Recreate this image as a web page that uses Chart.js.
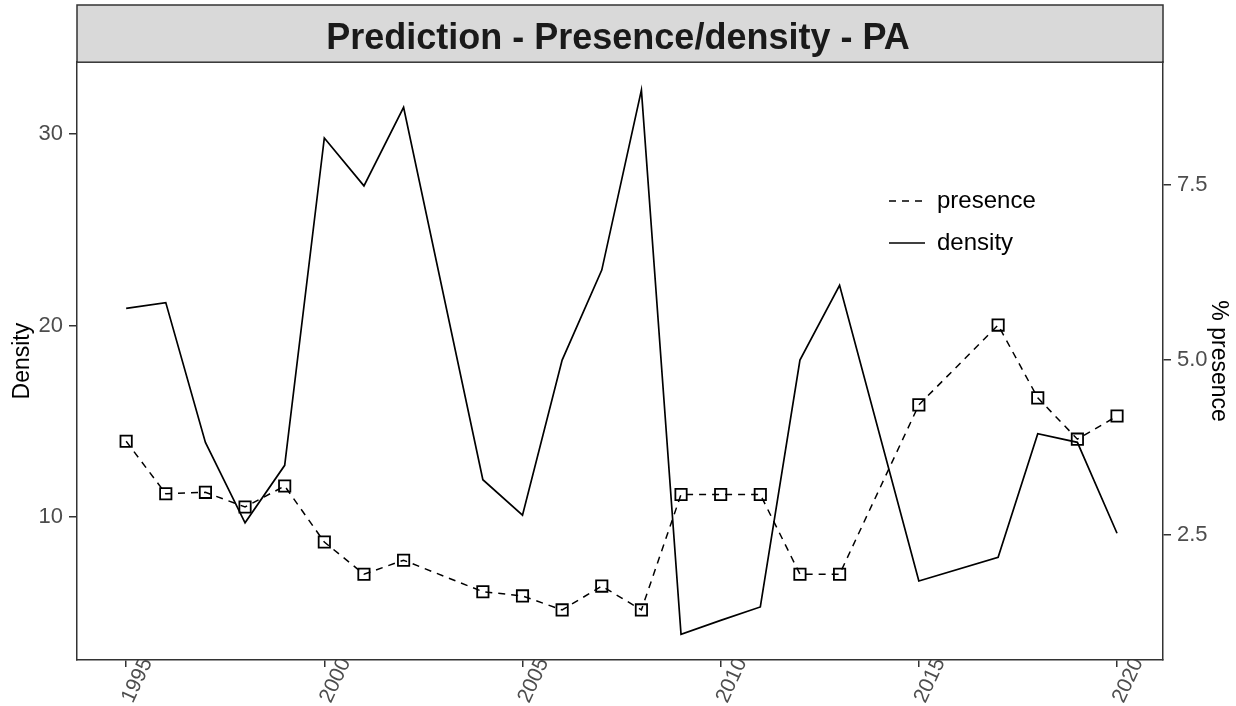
<!DOCTYPE html>
<html>
<head>
<meta charset="utf-8">
<script src="https://cdn.jsdelivr.net/npm/chart.js@4.4.0/dist/chart.umd.min.js"></script>
<style>
html,body{margin:0;padding:0;background:#fff;}
#wrap{width:1236px;height:706px;position:relative;}
</style>
</head>
<body>
<div id="wrap"><canvas id="chart"></canvas></div>
<script>
// values, null = year missing
const years=[1995,1996,1997,1998,1999,2000,2001,2002,2003,2004,2005,2006,2007,2008,2009,2010,2011,2012,2013,2014,2015,2016,2017,2018,2019,2020];
const density=[20.9,21.2,13.9,9.7,12.7,29.8,27.3,31.4,null,11.95,10.1,18.2,22.9,32.3,3.87,4.6,5.3,18.2,22.1,null,6.66,null,7.9,14.35,13.9,9.15];
const presence=[3.84,3.09,3.11,2.90,3.20,2.40,1.94,2.14,null,1.69,1.63,1.43,1.77,1.43,3.08,3.08,3.08,1.94,1.94,null,4.36,null,5.5,4.46,3.87,4.2];
const yearTicks=[1995,2000,2005,2010,2015,2020];
const densityTicks=[10,20,30];
const presenceTicks=[2.5,5.0,7.5];

const FONT='"Liberation Sans", Arial, sans-serif';
const AXIS='#333333';
const TICK='#4D4D4D';

function points(vals){
    return years.map((y,i)=>({x:y,y:vals[i]})).filter(p=>p.y!==null);
}

// grey strip behind the title, same width as the panel
const stripPlugin={
    id:'strip',
    beforeDraw(chart){
        const {ctx,chartArea:ca}=chart;
        ctx.save();
        ctx.fillStyle='#D9D9D9';
        ctx.fillRect(ca.left,5,ca.right-ca.left,ca.top-5);
        ctx.strokeStyle=AXIS;
        ctx.lineWidth=1.5;
        ctx.strokeRect(ca.left,5,ca.right-ca.left,ca.top-5);
        ctx.restore();
    }
};

// put the legend inside the panel, top right
const legendPos={
    id:'legendPos',
    afterLayout(chart){
        const L=chart.legend;
        L.left=871; L.top=171; L.right=1150; L.bottom=300;
        L.width=L.right-L.left; L.height=L.bottom-L.top;
    }
};

function legendLabels(chart){
    const items=Chart.defaults.plugins.legend.labels.generateLabels(chart);
    items.forEach(it=>{
        const ds=chart.data.datasets[it.datasetIndex];
        it.lineDash=ds.borderDash||[];
        it.lineWidth=ds.borderWidth;
        it.strokeStyle=ds.borderColor;
    });
    return items;
}

function yAxis(pos,min,max,tickVals,title,width,fmt,titlePad){
    return {
        type:'linear', position:pos, min:min, max:max,
        afterBuildTicks:s=>{s.ticks=tickVals.map(v=>({value:v}));},
        afterFit:s=>{s.width=width;},
        grid:{drawOnChartArea:false, drawTicks:true, tickLength:8, color:AXIS, lineWidth:1.5},
        border:{display:true, color:AXIS, width:1.5},
        ticks:{color:TICK, font:{family:FONT,size:22}, padding:6, callback:fmt},
        title:{display:true, text:title, color:'#000', font:{family:FONT,size:23}, padding:{top:titlePad,bottom:0}}
    };
}

new Chart(document.getElementById('chart'),{
    type:'line',
    data:{datasets:[
        {label:'presence', data:points(presence), yAxisID:'y2', borderColor:'#000', borderWidth:1.5, borderDash:[7,6],
         pointStyle:'rect', pointRadius:8, pointBorderWidth:1.8, pointBorderColor:'#000', pointBackgroundColor:'rgba(0,0,0,0)', tension:0},
        {label:'density', data:points(density), yAxisID:'y', borderColor:'#000', borderWidth:1.7, pointRadius:0, tension:0}
    ]},
    options:{
        responsive:true, maintainAspectRatio:false, animation:false,
        layout:{padding:{left:0,right:0,top:5,bottom:0}},
        plugins:{
            title:{display:true, text:'Prediction - Presence/density - PA', color:'#1A1A1A',
                   font:{family:FONT,size:36,weight:'bold'}, padding:{top:12,bottom:2}},
            legend:{display:true, position:'chartArea', align:'start',
                    labels:{usePointStyle:true, pointStyle:'line', pointStyleWidth:36, padding:18, color:'#000',
                            font:{family:FONT,size:24}, generateLabels:legendLabels}},
            tooltip:{enabled:false}
        },
        scales:{
            x:{
                type:'linear', min:1993.76, max:2021.16,
                afterBuildTicks:s=>{s.ticks=yearTicks.map(v=>({value:v}));},
                afterFit:s=>{s.height=46;},
                grid:{drawOnChartArea:false, drawTicks:true, tickLength:7, color:AXIS, lineWidth:1.5},
                border:{display:true, color:AXIS, width:1.5},
                ticks:{color:TICK, font:{family:FONT,size:21}, minRotation:65, maxRotation:65, padding:-13, labelOffset:21,
                       autoSkip:false, callback:v=>String(v)}
            },
            y:yAxis('left',2.53,33.76,densityTicks,'Density',77,v=>String(v),9),
            y2:yAxis('right',0.714,9.257,presenceTicks,'% presence',73,v=>v.toFixed(1),4)
        }
    },
    plugins:[stripPlugin,legendPos]
});
</script>
</body>
</html>
